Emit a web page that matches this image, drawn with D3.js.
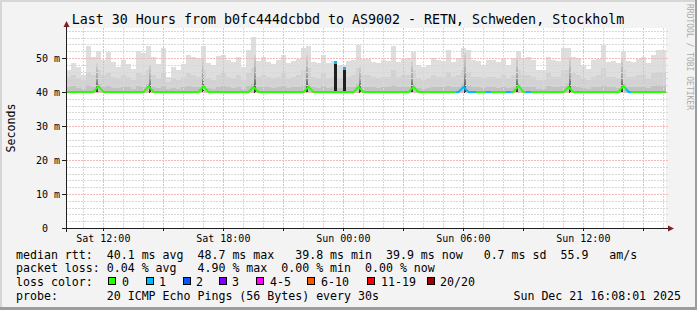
<!DOCTYPE html>
<html><head><meta charset="utf-8">
<script src="https://cdn.jsdelivr.net/npm/d3@7"></script>
<style>
body{margin:0;background:#fff}
svg{display:block}
text{font-family:"DejaVu Sans Mono",monospace;white-space:pre}
</style>
</head><body>
<svg id="c" width="697" height="310"></svg>
<script>
// ---------------- data ----------------
const titleText = "Last 30 Hours from b0fc444dcbbd to AS9002 - RETN, Schweden, Stockholm";
const startTime = "2025-12-20T10:08:01Z";
const endTime = "2025-12-21T16:08:01Z";
const binMinutes = 15;
const minRtt = 39.8;

// top of the outer (lightest) smoke, ms, one value per 15 min bin
const smokeMax = [
46.5,48.4,47.4,45.0,53.6,50.4,52.0,49.4,51.9,48.9,
47.4,49.4,48.1,46.8,52.0,51.4,53.6,50.4,48.1,52.8,
44.5,47.4,46.5,48.1,50.9,50.4,50.0,53.4,48.5,47.8,
50.5,51.0,49.4,48.9,50.2,47.4,52.4,56.3,49.0,50.4,
48.9,48.2,49.4,51.0,48.5,49.0,49.7,53.0,53.4,48.9,
48.5,51.0,48.5,49.0,47.8,48.0,49.0,49.5,53.8,49.7,
49.7,48.9,48.5,49.4,49.0,53.4,48.9,49.7,50.0,51.9,
47.8,47.5,48.0,50.0,49.4,49.0,52.4,48.9,50.0,52.9,
52.4,49.4,49.0,47.8,49.4,49.4,48.9,49.7,48.0,50.0,
52.0,50.0,50.2,49.5,46.5,46.5,50.4,49.4,49.0,53.0,
53.0,50.4,50.0,47.8,46.8,49.4,49.7,53.8,48.9,49.0,
48.5,52.0,49.0,48.9,49.7,50.2,48.5,51.0,52.4,52.4
];
// top of the second smoke layer (19th of 20 pings)
const smokeP19 = [
44.5,45.0,44.0,43.5,46.0,45.0,46.5,45.0,45.5,44.5,
44.0,45.0,44.5,43.5,45.5,45.0,46.5,45.0,44.0,45.5,
43.0,44.0,43.5,44.5,45.5,45.0,44.5,46.5,44.0,43.5,
45.0,45.5,44.5,44.0,45.0,43.5,45.5,47.0,44.5,45.0,
44.5,44.0,44.5,45.5,44.0,44.5,45.0,46.5,47.0,44.5,
44.0,45.5,44.0,44.5,44.0,44.0,44.5,45.0,47.0,45.0,
45.0,44.5,44.0,44.5,44.5,46.5,44.5,45.0,45.0,46.5,
44.0,43.5,44.0,45.0,44.5,44.5,46.0,44.5,45.0,46.5,
46.0,44.5,44.5,44.0,44.5,44.5,44.0,45.0,44.0,45.0,
46.5,45.0,45.0,44.5,43.5,43.5,45.5,44.5,44.5,46.5,
46.5,45.5,45.0,44.0,43.5,44.5,45.0,47.0,44.5,44.5,
44.0,46.5,44.5,44.5,45.0,45.0,44.0,45.5,46.0,46.0
];
// top of the third smoke layer (18th of 20 pings)
const smokeP18 = [
41.5,41.8,41.2,41.0,42.0,41.5,42.5,41.5,41.8,41.3,
41.2,41.5,41.4,41.0,41.8,41.5,42.5,41.6,41.2,41.8,
40.8,41.2,41.0,41.4,41.8,41.6,41.4,42.5,41.3,41.0,
41.5,41.8,41.4,41.2,41.6,41.0,41.8,42.5,41.4,41.6,
41.4,41.2,41.4,41.8,41.2,41.4,41.6,42.2,42.5,41.4,
41.2,41.8,41.2,41.4,41.2,41.2,41.4,41.6,42.5,41.6,
41.6,41.4,41.2,41.4,41.4,42.0,41.4,41.6,41.6,42.5,
41.2,41.0,41.2,41.6,41.4,41.4,41.8,41.4,41.6,42.5,
42.0,41.4,41.4,41.2,41.4,41.4,41.2,41.6,41.2,41.6,
42.5,41.6,41.6,41.4,41.0,41.0,41.8,41.4,41.4,42.2,
42.5,41.8,41.6,41.2,41.0,41.4,41.6,42.2,41.4,41.4,
41.2,42.5,41.4,41.4,41.6,41.6,41.2,41.8,42.0,42.0
];
// median rtt per bin, ms
const median = [
40.0,40.0,40.0,40.0,40.0,40.0,41.7,40.0,40.0,40.0,
40.0,40.0,40.0,40.0,40.0,40.0,41.7,40.0,40.0,40.0,
40.0,40.0,40.0,40.0,40.0,40.0,40.0,41.7,40.0,40.0,
40.0,40.0,40.0,40.0,40.0,40.0,40.0,41.5,40.0,40.0,
40.0,40.0,40.0,40.0,40.0,40.0,40.0,40.0,41.5,40.0,
40.0,40.0,40.0,40.0,40.0,40.0,40.0,40.0,41.5,40.0,
40.0,40.0,40.0,40.0,40.0,40.0,40.0,40.0,40.0,41.5,
40.0,40.0,40.0,40.0,40.0,40.0,40.0,40.0,40.0,41.5,
40.0,40.0,40.0,40.0,40.0,40.0,40.0,40.0,40.0,40.0,
41.8,40.0,40.0,40.0,40.0,40.0,40.0,40.0,40.0,40.0,
41.5,40.0,40.0,40.0,40.0,40.0,40.0,40.0,40.0,40.0,
40.0,41.8,40.0,40.0,40.0,40.0,40.0,40.0,40.0,40.0
];
// lost pings (of 20) per bin
const loss = [
0,0,0,0,0,0,0,0,0,0, 0,0,0,0,0,0,0,0,0,0,
0,0,0,0,0,0,0,0,0,0, 0,0,0,0,0,0,0,0,0,0,
0,0,0,0,0,0,0,0,0,0, 0,0,0,0,0,0,0,0,0,0,
0,0,0,0,0,0,0,0,0,0, 0,0,0,0,0,0,0,0,1,1,
1,1,0,0,1,0,0,0,1,0, 0,0,1,0,0,0,0,0,0,0,
0,0,0,0,0,0,0,0,0,0, 0,0,1,0,0,0,0,0,0,0
];
// periodic dense smoke spikes
const spikeTimes = ["2025-12-20T11:41Z","2025-12-20T14:20Z","2025-12-20T16:59Z","2025-12-20T19:35Z",
  "2025-12-20T22:11Z","2025-12-21T00:50Z","2025-12-21T03:26Z","2025-12-21T06:05Z",
  "2025-12-21T08:41Z","2025-12-21T11:20Z","2025-12-21T13:56Z"];
const spikeHigh = [48.5,48.0,50.0,51.0,51.0,47.5,49.0,51.5,50.0,50.0,50.0];
// short bursts of high median rtt
const burstTimes = ["2025-12-20T23:36Z","2025-12-21T00:02Z"];
const burstRtt = [48.7,47.2];
const burstLoss = [1,1];

const yMajor = [0,10,20,30,40,50];
const yUnits = ["","m","m","m","m","m"];
const lossLabels = ["0","1","2","3","4-5","6-10","11-19","20/20"];
const lossColors = ["#26ff00","#00b8ff","#0059ff","#7e00ff","#ff00ff","#ff5500","#ff0000","#a00000"];
const lossBounds = [1,2,3,4,6,11,20];
const legendLines = [
  "median rtt:  40.1 ms avg  48.7 ms max   39.8 ms min  39.9 ms now   0.7 ms sd  55.9   am/s",
  "packet loss: 0.04 % avg   4.90 % max  0.00 % min  0.00 % now",
  "loss color:",
  "probe:       20 ICMP Echo Pings (56 Bytes) every 30s"
];
const stampText = "Sun Dec 21 16:08:01 2025";

// ---------------- drawing ----------------
const W = 697, H = 310;
const L = 66, R = 666, T = 28, B = 228;
const svg = d3.select("#c");
const t0 = new Date(startTime), t1 = new Date(endTime);
const x = d3.scaleUtc().domain([t0, t1]).range([L, R]);
const y = d3.scaleLinear().domain([0, (B - T) / 3.4]).range([B, T]);
const binT = i => d3.utcMinute.offset(t0, i * binMinutes);
const lossColor = d3.scaleThreshold().domain(lossBounds).range(lossColors);
const defs = svg.append("defs");

// background + 3D border
svg.append("rect").attr("width", W).attr("height", H).attr("fill", "#f3f3f3");
svg.append("rect").attr("x",0).attr("y",0).attr("width",W).attr("height",2).attr("fill","#d6d6d6");
svg.append("rect").attr("x",0).attr("y",0).attr("width",2).attr("height",H).attr("fill","#d6d6d6");
svg.append("rect").attr("x",0).attr("y",H-3).attr("width",W).attr("height",3).attr("fill","#9c9c9c");
svg.append("rect").attr("x",W-2).attr("y",0).attr("width",2).attr("height",H).attr("fill","#9c9c9c");

// canvas
svg.append("rect").attr("x", L).attr("y", T).attr("width", R - L).attr("height", B - T).attr("fill", "#fff");

const plot = svg.append("g").attr("shape-rendering", "crispEdges");
[[smokeMax, "#dedede"], [smokeP19, "#d2d2d2"], [smokeP18, "#c2c2c2"]].forEach(([arr, col]) => {
  plot.append("g").selectAll("rect").data(arr).join("rect")
    .attr("x", (d, i) => x(binT(i)))
    .attr("width", (d, i) => x(binT(i + 1)) - x(binT(i)))
    .attr("y", d => y(d))
    .attr("height", d => y(minRtt) - y(d))
    .attr("fill", col);
});

// spike gradient
const grad = defs.append("linearGradient").attr("id", "sg").attr("x1", 0).attr("y1", 0).attr("x2", 0).attr("y2", 1);
grad.append("stop").attr("offset", "0").attr("stop-color", "#d4d4d4");
grad.append("stop").attr("offset", "0.5").attr("stop-color", "#a8a8a8");
grad.append("stop").attr("offset", "0.8").attr("stop-color", "#666");
grad.append("stop").attr("offset", "1").attr("stop-color", "#303030");
plot.append("g").selectAll("rect").data(spikeTimes).join("rect")
  .attr("x", d => Math.round(x(new Date(d))) - 1)
  .attr("width", 2)
  .attr("y", (d, i) => y(spikeHigh[i]))
  .attr("height", (d, i) => y(minRtt) - y(spikeHigh[i]))
  .attr("fill", "url(#sg)");

// grid, drawn over the smoke
const hourTicks = x.ticks(d3.utcHour.every(1));
const grid = svg.append("g");
hourTicks.forEach(t => {
  const major = t.getUTCHours() % 3 === 0;
  const xx = Math.round(x(t)) + 0.5;
  grid.append("line").attr("x1", xx).attr("x2", xx).attr("y1", T).attr("y2", B)
    .attr("stroke", major ? "#f2b8b8" : "#d8d8d8").attr("stroke-width", 1)
    .attr("stroke-dasharray", "2,1");
});
d3.range(2, 59, 2).forEach(v => {
  const major = v % 10 === 0;
  const yy = Math.round(y(v)) + 0.5;
  grid.append("line").attr("x1", L).attr("x2", R + 2).attr("y1", yy).attr("y2", yy)
    .attr("stroke", major ? "#f2b8b8" : "#d8d8d8").attr("stroke-width", 1)
    .attr("stroke-dasharray", "2,1");
});

// bursts (solid, above grid)
const bg = svg.append("g").attr("shape-rendering", "crispEdges");
bg.selectAll("rect.b").data(burstTimes).join("rect").attr("class", "b")
  .attr("x", d => Math.round(x(new Date(d))) - 1)
  .attr("width", 3)
  .attr("y", (d, i) => y(burstRtt[i]))
  .attr("height", (d, i) => y(40) - y(burstRtt[i]))
  .attr("fill", "#1e1e1e");

// median line coloured by loss
const pts = median.map((m, i) => [(x(binT(i)) + x(binT(i + 1))) / 2, y(m)]);
const line = d3.line();
const mg = svg.append("g");
median.forEach((m, i) => {
  const a = i > 0 ? [(pts[i - 1][0] + pts[i][0]) / 2, (pts[i - 1][1] + pts[i][1]) / 2] : [L, pts[0][1]];
  const b = i < median.length - 1 ? [(pts[i][0] + pts[i + 1][0]) / 2, (pts[i][1] + pts[i + 1][1]) / 2] : [R, pts[i][1]];
  mg.append("path").attr("d", line([a, pts[i], b])).attr("fill", "none")
    .attr("stroke", lossColor(loss[i])).attr("stroke-width", 2);
});
bg.selectAll("rect.m").data(burstTimes).join("rect").attr("class", "m")
  .attr("x", d => Math.round(x(new Date(d))) - 1)
  .attr("width", 3)
  .attr("y", (d, i) => y(burstRtt[i]) - 1)
  .attr("height", 3)
  .attr("fill", (d, i) => lossColor(burstLoss[i]));

// axes
const ax = svg.append("g").attr("shape-rendering", "crispEdges");
ax.append("line").attr("x1", 62).attr("x2", 669).attr("y1", B + 0.5).attr("y2", B + 0.5).attr("stroke", "#1f1f1f");
ax.append("line").attr("x1", L + 0.5).attr("x2", L + 0.5).attr("y1", 232).attr("y2", 25).attr("stroke", "#1f1f1f");
svg.append("path").attr("d", `M668,${B - 2.5}L674,${B + 0.5}L668,${B + 3.5}Z`).attr("fill", "#801f1f");
svg.append("path").attr("d", `M${L - 2.5},27L${L + 0.5},21L${L + 3.5},27Z`).attr("fill", "#801f1f");
hourTicks.filter(t => t.getUTCHours() % 3 === 0).forEach(t => {
  const xx = Math.round(x(t)) + 0.5;
  ax.append("line").attr("x1", xx).attr("x2", xx).attr("y1", B).attr("y2", B + 3).attr("stroke", "#1f1f1f");
});
yMajor.forEach(v => {
  const yy = Math.round(y(v)) + 0.5;
  ax.append("line").attr("x1", 62).attr("x2", L).attr("y1", yy).attr("y2", yy).attr("stroke", "#1f1f1f");
});

// tick labels
const fmt = d3.utcFormat("%a %H:%M");
svg.append("g").selectAll("text").data(x.ticks(d3.utcHour.every(6))).join("text")
  .attr("x", d => x(d)).attr("y", 241.5).attr("text-anchor", "middle")
  .attr("font-size", "10px").attr("fill", "#000").text(d => fmt(d));
const yl = svg.append("g").attr("font-size", "10px").attr("fill", "#000");
yMajor.forEach((v, i) => {
  yl.append("text").attr("x", 48).attr("y", y(v) + 3.5).attr("text-anchor", "end").text(String(v));
  if (yUnits[i]) yl.append("text").attr("x", 54).attr("y", y(v) + 3.5).text(yUnits[i]);
});

// title, labels
svg.append("text").attr("x", 348).attr("y", 24).attr("text-anchor", "middle")
  .attr("font-size", "13.3px").attr("fill", "#000").text(titleText);
svg.append("text").attr("transform", "translate(14.5,128) rotate(-90)").attr("text-anchor", "middle")
  .attr("font-size", "11.6px").attr("fill", "#000").text("Seconds");
svg.append("text").attr("transform", "translate(686.5,4) rotate(90)")
  .attr("font-size", "8px").attr("fill", "#aaaaaa").text("RRDTOOL / TOBI OETIKER");

// legend
const lg = svg.append("g").attr("font-size", "11.6px").attr("fill", "#000");
const lineY = [258.5, 272.3, 286.2, 300];
legendLines.forEach((s, i) => lg.append("text").attr("x", 16).attr("y", lineY[i]).text(s));
const boxX = [108, 146, 183, 219, 256, 307, 367, 427];
const labX = [122, 159, 196, 232, 270, 321, 381, 440];
lossLabels.forEach((s, i) => {
  lg.append("rect").attr("x", boxX[i] + 0.5).attr("y", 277.5).attr("width", 7).attr("height", 7)
    .attr("fill", lossColors[i]).attr("stroke", "#000").attr("stroke-width", 1).attr("shape-rendering", "crispEdges");
  lg.append("text").attr("x", labX[i]).attr("y", lineY[2]).text(s);
});
lg.append("text").attr("x", 681).attr("y", lineY[3]).attr("text-anchor", "end").text(stampText);
</script>
</body></html>
